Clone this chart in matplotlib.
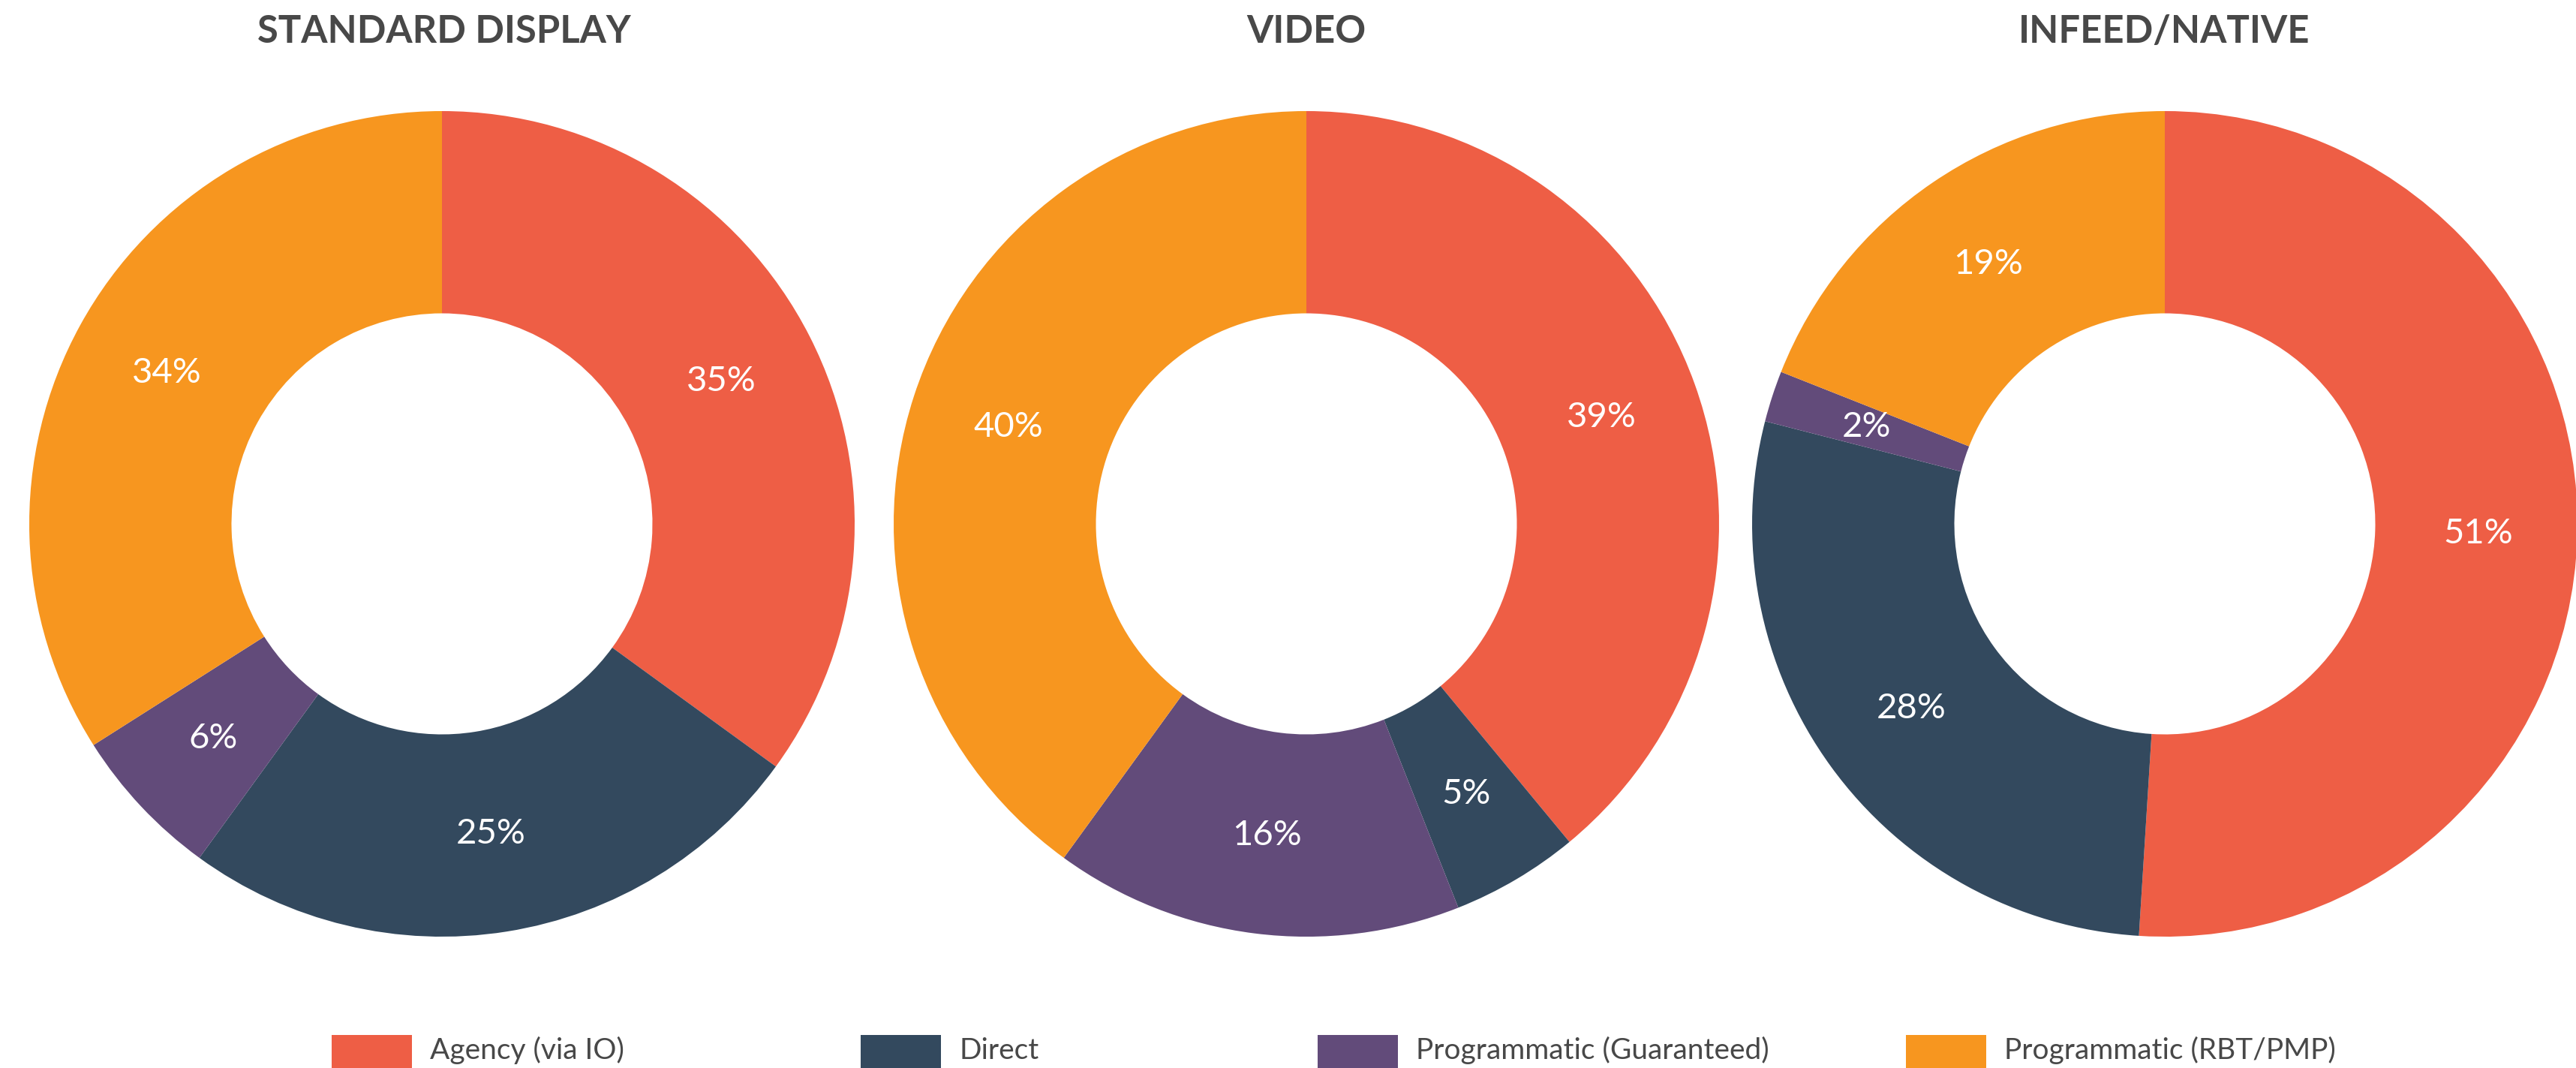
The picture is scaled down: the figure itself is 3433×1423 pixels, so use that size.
import numpy as np
import matplotlib.pyplot as plt
from matplotlib.patches import Rectangle

# shares per ad format, order: Agency, Direct, Prog. Guaranteed, Prog. RBT/PMP
titles = ["STANDARD DISPLAY", "VIDEO", "INFEED/NATIVE"]
standard_display = [35, 25, 6, 34]
video = [39, 5, 16, 40]
infeed_native = [51, 28, 2, 19]
categories = ["Agency (via IO)", "Direct", "Programmatic (Guaranteed)", "Programmatic (RBT/PMP)"]
colors = ["#EE5E45", "#33495E", "#624B7A", "#F7961F"]

W, H = 3433, 1423
DPI = 100
R = 550            # ring outer radius, px
CY = 698           # ring centre, px from top
centers_x = [589, 1741, 2885]
title_x = [592, 1741, 2884]
legend_x = [442, 1147, 1756, 2540]
TXT = "#484848"

fig = plt.figure(figsize=(W / DPI, H / DPI), dpi=DPI)
fig.patch.set_facecolor("white")

for cx, tx, title, values in zip(centers_x, title_x, titles,
                                 [standard_display, video, infeed_native]):
    ax = fig.add_axes([(cx - R) / W, (H - CY - R) / H, 2 * R / W, 2 * R / H])
    ax.pie(values, colors=colors, startangle=90, counterclock=False,
           radius=1.0, wedgeprops=dict(width=0.49, linewidth=0),
           autopct=lambda p: f"{p:.0f}%", pctdistance=0.76,
           textprops=dict(color="white", fontsize=34, family="Lato"))
    ax.set_xlim(-1, 1)
    ax.set_ylim(-1, 1)
    ax.set_aspect("equal")
    ax.axis("off")

    fig.text(tx / W, 1 - 57 / H, title, ha="center", va="baseline",
             fontsize=36.5, fontweight="bold", family="Lato", color=TXT)

# legend row along the bottom edge
for lx, label, col in zip(legend_x, categories, colors):
    fig.add_artist(Rectangle((lx / W, 0), 107 / W, (H - 1379) / H,
                             transform=fig.transFigure, facecolor=col,
                             edgecolor="none"))
    fig.text((lx + 131) / W, 1 - 1411 / H, label, ha="left", va="baseline",
             fontsize=28, family="Lato", color=TXT)

fig.savefig("out.png", dpi=DPI, facecolor="white")
